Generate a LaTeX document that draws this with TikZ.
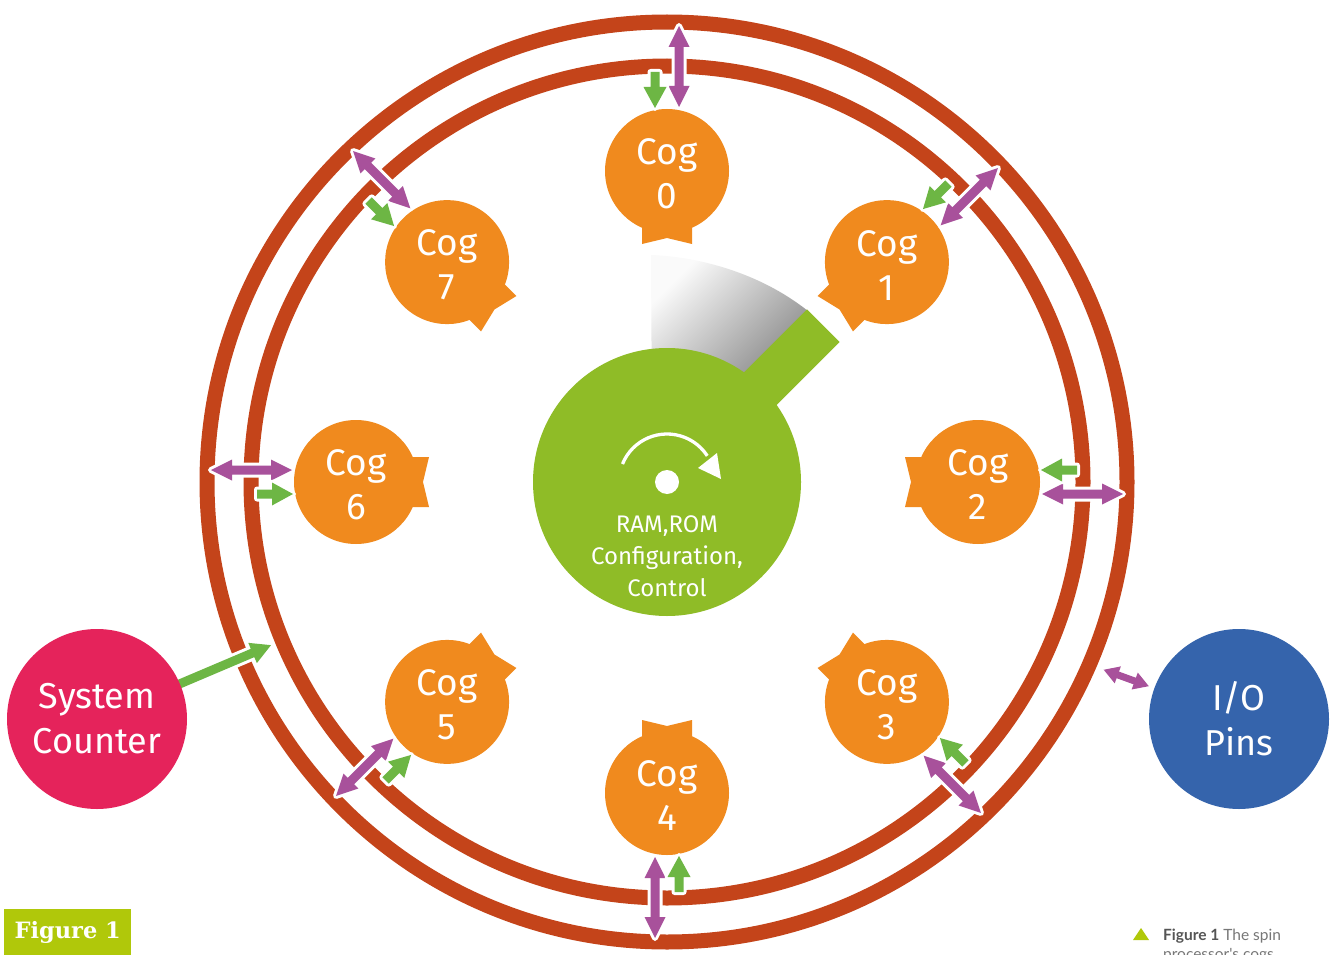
\documentclass[tikz,border=0pt]{standalone}
\usepackage{fontspec}
\setmainfont[Numbers=Lining]{Fira Sans}
\newfontfamily\slabfont{DejaVu Serif}
\newfontfamily\capfont{Lato}
\usetikzlibrary{calc}
\definecolor{ringc}{HTML}{C4441A}
\definecolor{cogor}{HTML}{F08A1E}
\definecolor{hubg}{HTML}{8FBC27}
\definecolor{garr}{HTML}{6DB644}
\definecolor{parr}{HTML}{A8519B}
\definecolor{sysc}{HTML}{E5235B}
\definecolor{iopin}{HTML}{3564AC}
\definecolor{figbg}{HTML}{B0C80A}
\definecolor{captxt}{HTML}{555555}
\definecolor{captxtl}{HTML}{777777}
\tikzset{
  ringline/.style={draw=ringc, line width=15},
  cogtext/.style={text=white, font=\fontsize{37}{44}\selectfont, align=center, inner sep=0pt},
  hubtext/.style={text=white, font=\fontsize{24}{32}\selectfont, align=center, inner sep=0pt},
  bigtext/.style={circle, text=white, font=\fontsize{36}{45}\selectfont, align=center, minimum size=180pt, inner sep=0pt},
  purplearrow/.style={fill=parr, preaction={draw=white, line width=6pt, line join=round}},
  greenarrow/.style={fill=garr, preaction={draw=white, line width=6pt, line join=round}},
}
% double arrow along local x: style, a, b, c, s, h, L
\newcommand\dblarr[7]{\path[#1] (#2,#4) -- ({#2+#7},{#4-#6}) -- ({#2+#7},{#4-#5}) -- ({#3-#7},{#4-#5}) -- ({#3-#7},{#4-#6}) -- (#3,#4) -- ({#3-#7},{#4+#6}) -- ({#3-#7},{#4+#5}) -- ({#2+#7},{#4+#5}) -- ({#2+#7},{#4+#6}) -- cycle;}
% single arrow along local x: style, tail, headbase, tip, c, s, h
\newcommand\sglarr[7]{\path[#1] (#2,{#5-#6}) -- (#3,{#5-#6}) -- (#3,{#5-#7}) -- (#4,#5) -- (#3,{#5+#7}) -- (#3,{#5+#6}) -- (#2,{#5+#6}) -- cycle;}
\begin{document}
\begin{tikzpicture}[x=1pt,y=-1pt]
\useasboundingbox (0,0) rectangle (1336,955);
\clip (0,0) rectangle (1336,955);
\fill[white] (0,0) rectangle (1336,955);
\coordinate (C) at (667,482);
% rings
\draw[ringline] (C) circle (460);
\draw[ringline] (C) circle (416);
% hub wedge
\shade[top color=black!2, bottom color=black!55, shading angle=45]
  (652,430) -- (651,255) .. controls (700,257) and (760,273) .. (808,311) -- (720,399) -- cycle;
% hub arm and disc
\begin{scope}[shift={(C)}, rotate=45]
  \fill[hubg] (0,-23) rectangle (221,23);
\end{scope}
\fill[hubg] (C) circle (134);
\draw[white, line width=3.3pt] ($(C)+(202:48)$) arc[start angle=202, end angle=327, radius=48];
\fill[white] (698,468) -- (717,453) -- (721,479) -- cycle;
\fill[white] (C) circle (12);
\node[hubtext] (hubtxt) at (667,556) {RAM,ROM\\Configuration,\\Control};
% cogs
\foreach \k/\ang in {0/-90,1/-45,2/0,3/45,4/90,5/135,6/180,7/225}{
  \begin{scope}[shift={(C)}, rotate=-\ang]
    \fill[cogor] (311,0) circle (62);
    \fill[cogor] (311,-25) -- (238,-25) -- (244,0) -- (238,25) -- (311,25) -- cycle;
    \dblarr{purplearrow}{375}{456}{12}{4.5}{10.5}{21}
    \sglarr{greenarrow}{410}{395}{374}{-12}{4.5}{11.5}
  \end{scope}
  \node[cogtext] (cog\k) at ($(C)+(\ang:311)+(0,3)$) {Cog\\\k};
}
% system counter
\begin{scope}[shift={(97,719)}, rotate=23]
  \sglarr{greenarrow}{80}{169}{189}{0}{4.5}{11}
\end{scope}
\node[bigtext, fill=sysc] (sc) at (97,719) {System\\Counter};
% I/O pins
\node[bigtext, fill=iopin] (io) at (1239,719) {I/O\\Pins};
\begin{scope}[shift={(1239,719)}, rotate=160]
  \dblarr{purplearrow}{96}{144}{0}{3.5}{9}{15}
\end{scope}
% figure label
\node[fill=figbg, minimum width=127pt, minimum height=46pt, anchor=north west, inner sep=0pt,
      text=white, font=\slabfont\bfseries\fontsize{22.5}{26}\selectfont] (fig) at (4,909) {Figure 1};
% caption
\fill[figbg] (1133,940) -- (1149,940) -- (1141,928) -- cycle;
\node[anchor=base west, inner sep=0pt, font=\capfont\fontsize{15.5}{19}\selectfont, text=captxtl] (cap1) at (1163,940) {\textcolor{captxt}{\bfseries Figure 1} The spin};
\node[anchor=base west, inner sep=0pt, font=\capfont\fontsize{15.5}{19}\selectfont, text=captxtl] (cap2) at (1163,959) {processor's cogs};
\end{tikzpicture}
\end{document}
